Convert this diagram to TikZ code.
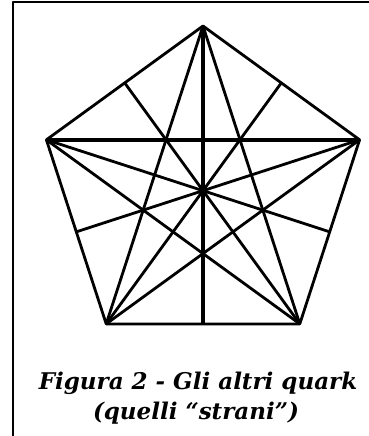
\documentclass[tikz,border=0pt]{standalone}
\usepackage{fontspec}
\setmainfont{DejaVu Serif}
\usetikzlibrary{calc}
\begin{document}
\begin{tikzpicture}[x=1pt,y=-1pt,line join=round,
  side/.style={line width=2.8pt},
  axis/.style={line width=3.8pt},
  caption/.style={anchor=base,inner sep=0pt,font=\fontsize{23}{30}\selectfont\bfseries\itshape}]
\useasboundingbox (0,0) rectangle (369,436);
\clip (0,0) rectangle (369,436);
% frame
\draw[line width=2pt] (13,460) -- (13,2) -- (400,2);
% pentagon
\coordinate (v1) at (203,26);
\coordinate (v2) at (359.6,139.8);
\coordinate (v3) at (299.8,323.9);
\coordinate (v4) at (106.2,323.9);
\coordinate (v5) at (46.4,139.8);
\coordinate (m1) at ($(v3)!0.5!(v4)$);
\coordinate (m2) at ($(v4)!0.5!(v5)$);
\coordinate (m3) at ($(v5)!0.5!(v1)$);
\coordinate (m4) at ($(v1)!0.5!(v2)$);
\coordinate (m5) at ($(v2)!0.5!(v3)$);
\draw[side] (v1) -- (v2) -- (v3) -- (v4) -- (v5) -- cycle;
\path[side] (v1) edge (v3) (v1) edge (v4) (v2) edge (v4) (v3) edge (v5);
\path[axis] (v2) edge (v5) (v1) edge (m1);
\path[side] (v2) edge (m2) (v3) edge (m3) (v4) edge (m4) (v5) edge (m5);
% caption
\node[caption] (cap1) at (198,389) {Figura 2 - Gli altri quark};
\node[caption] (cap2) at (196,419) {(quelli “strani”)};
\end{tikzpicture}
\end{document}
